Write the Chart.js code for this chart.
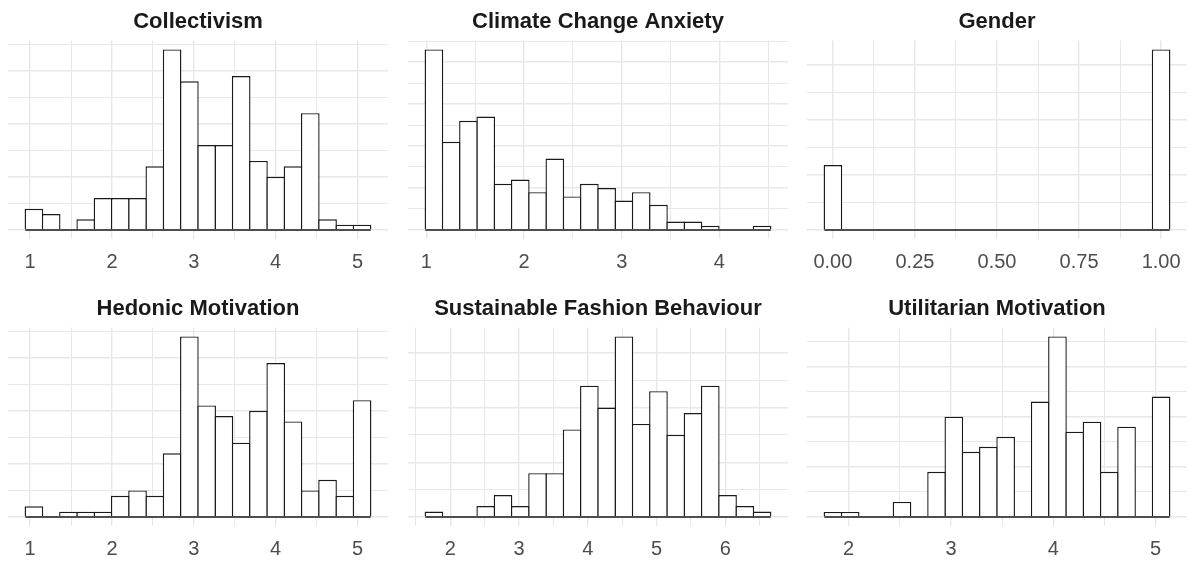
<!DOCTYPE html>
<html>
<head>
<meta charset="utf-8">
<title>Histograms</title>
<script src="https://cdn.jsdelivr.net/npm/chart.js@4.4.1/dist/chart.umd.min.js"></script>
<style>
  body { margin: 0; background: #fff; }
  #wrap { position: relative; width: 1190px; height: 561px; background: #fff; overflow: hidden; }
  #wrap canvas { position: absolute; }
</style>
</head>
<body>
<div id="wrap">
  <canvas id="p0" width="380" height="274" style="left:8px;top:0px"></canvas>
  <canvas id="p1" width="380" height="274" style="left:408px;top:0px"></canvas>
  <canvas id="p2" width="380" height="274" style="left:807px;top:0px"></canvas>
  <canvas id="p3" width="380" height="274" style="left:8px;top:287px"></canvas>
  <canvas id="p4" width="380" height="274" style="left:408px;top:287px"></canvas>
  <canvas id="p5" width="380" height="274" style="left:807px;top:287px"></canvas>
</div>
<script>
// panel titles
const titles = [
  "Collectivism",
  "Climate Change Anxiety",
  "Gender",
  "Hedonic Motivation",
  "Sustainable Fashion Behaviour",
  "Utilitarian Motivation",
];

// counts per bin (20 bins per variable)
const collectivismCounts = [4, 3, 0, 2, 6, 6, 6, 12, 34, 28, 16, 16, 29, 13, 10, 12, 22, 2, 1, 1];
const anxietyCounts = [43, 21, 26, 27, 11, 12, 9, 17, 8, 11, 10, 7, 9, 6, 2, 2, 1, 0, 0, 1];
const genderCounts = [59, 0, 0, 0, 0, 0, 0, 0, 0, 0, 0, 0, 0, 0, 0, 0, 0, 0, 0, 164];
const hedonicCounts = [2, 0, 1, 1, 1, 4, 5, 4, 12, 34, 21, 19, 14, 20, 29, 18, 5, 7, 4, 22];
const sustainableCounts = [1, 0, 0, 2, 4, 2, 8, 8, 16, 24, 20, 33, 17, 23, 15, 19, 24, 4, 2, 1];
const utilitarianCounts = [1, 1, 0, 0, 3, 0, 9, 20, 13, 14, 16, 0, 23, 36, 17, 19, 9, 18, 0, 24];

// left edge of the first bin, and bin width
const binStarts = [0.94, 0.99, -0.0263, 0.94, 1.636, 1.7625];
const binWidths = [0.2111, 0.17675, 0.05263, 0.2111, 0.2513, 0.16875];

// x axis tick labels
const collectivismTicks = ["1", "2", "3", "4", "5"];
const anxietyTicks = ["1", "2", "3", "4"];
const genderTicks = ["0.00", "0.25", "0.50", "0.75", "1.00"];
const hedonicTicks = ["1", "2", "3", "4", "5"];
const sustainableTicks = ["2", "3", "4", "5", "6"];
const utilitarianTicks = ["2", "3", "4", "5"];

// spacing of the horizontal grid lines (counts)
const yGridSteps = [5, 5, 25, 5, 5, 5];

const allCounts = [collectivismCounts, anxietyCounts, genderCounts, hedonicCounts, sustainableCounts, utilitarianCounts];
const allTicks = [collectivismTicks, anxietyTicks, genderTicks, hedonicTicks, sustainableTicks, utilitarianTicks];

const FONT = "'Liberation Sans', Arial, sans-serif";
const GRID = "#e8e8e8";
const OUTLINE = "#1a1a1a";
const OUTLINE_W = 1.4;

const drawPanel = (i) => {
  const counts = allCounts[i];
  const labels = allTicks[i];
  const start = binStarts[i];
  const width = binWidths[i];
  const end = start + counts.length * width;
  const pad = (end - start) * 0.05;
  const yMax = Math.max(...counts);
  const yStep = yGridSteps[i];

  const majors = labels.map(Number);
  const half = (majors[1] - majors[0]) / 2;
  const majorIndex = (v) => majors.findIndex((m) => Math.abs(m - v) < 1e-6);

  new Chart(document.getElementById("p" + i), {
    type: "bar",
    data: {
      datasets: [
        {
          // baseline under the bins
          type: "line",
          data: [{ x: start, y: 0 }, { x: end, y: 0 }],
          borderColor: OUTLINE,
          borderWidth: OUTLINE_W,
          pointRadius: 0,
          order: 0,
        },
        {
          type: "bar",
          data: counts.map((c, k) => ({ x: start + (k + 0.5) * width, y: c })),
          backgroundColor: "#ffffff",
          borderColor: OUTLINE,
          borderWidth: OUTLINE_W,
          borderSkipped: "start",
          // slight overlap so neighbouring outlines share one line
          barPercentage: 1.08,
          categoryPercentage: 1,
          order: 1,
        },
      ],
    },
    options: {
      responsive: false,
      animation: false,
      events: [],
      layout: { padding: 0 },
      plugins: {
        legend: { display: false },
        tooltip: { enabled: false },
        title: {
          display: true,
          text: titles[i],
          color: "#1a1a1a",
          font: { family: FONT, size: 22, weight: "bold" },
          padding: { top: 9, bottom: 5 },
        },
      },
      scales: {
        x: {
          type: "linear",
          min: start - pad,
          max: end + pad,
          bounds: "data",
          offset: false,
          border: { display: false },
          grid: {
            offset: false,
            // invisible tick marks give the gap above the labels
            drawTicks: true,
            tickLength: 11,
            tickColor: "rgba(0,0,0,0)",
            color: GRID,
            lineWidth: (ctx) => (ctx.tick && majorIndex(ctx.tick.value) >= 0 ? 1.4 : 1),
          },
          ticks: {
            autoSkip: false,
            maxRotation: 0,
            padding: 0,
            color: "#4d4d4d",
            font: { family: FONT, size: 20 },
            callback: (value) => {
              const j = majorIndex(value);
              return j >= 0 ? labels[j] : "";
            },
          },
          afterBuildTicks: (axis) => {
            const ticks = [];
            const first = Math.ceil((axis.min - 1e-9) / half);
            for (let k = first; k * half <= axis.max + 1e-9; k++) {
              ticks.push({ value: +(k * half).toFixed(6) });
            }
            axis.ticks = ticks;
          },
        },
        y: {
          min: -0.05 * yMax,
          max: 1.05 * yMax,
          bounds: "data",
          border: { display: false },
          grid: {
            drawTicks: false,
            color: GRID,
            lineWidth: (ctx) => (ctx.tick && ctx.tick.value % (2 * yStep) === 0 ? 1.4 : 1),
          },
          ticks: { display: false },
          afterBuildTicks: (axis) => {
            const ticks = [];
            for (let v = 0; v <= axis.max; v += yStep) ticks.push({ value: v });
            axis.ticks = ticks;
          },
        },
      },
    },
  });
};

document.addEventListener("DOMContentLoaded", () => {
  for (let i = 0; i < 6; i++) drawPanel(i);
});
</script>
</body>
</html>
